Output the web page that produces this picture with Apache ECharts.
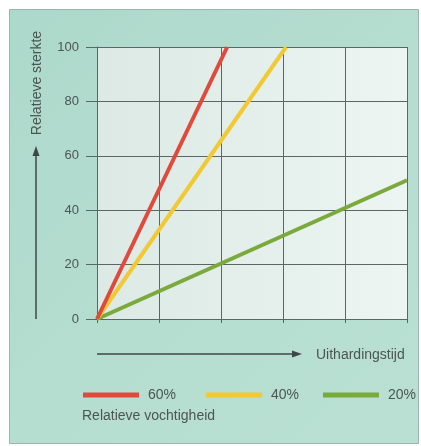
<!DOCTYPE html>
<html>
<head>
<meta charset="utf-8">
<script src="https://cdn.jsdelivr.net/npm/echarts@6/dist/echarts.min.js"></script>
<style>
html,body{margin:0;padding:0;background:#fff;}
#c{width:421px;height:446px;}
</style>
</head>
<body>
<div id="c"></div>
<script>
// Data
const seriesNames = ['60%', '40%', '20%'];
const series60 = [[0, 0], [2.1, 100]];
const series40 = [[0, 0], [3.05, 100]];
const series20 = [[0, 0], [5, 51]];
const xMin = 0, xMax = 5, xStep = 1;
const yMin = 0, yMax = 100, yStep = 20;
const yTitle = 'Relatieve sterkte';
const xTitle = 'Uithardingstijd';
const legendTitle = 'Relatieve vochtigheid';

const colors = ['#df4a3c', '#f1c933', '#7aa93c'];
const gridColor = '#5c6664';
const textColor = '#4d5553';
const font = 'Liberation Sans, Arial, sans-serif';
const legendLefts = [83, 206, 323];

const chart = echarts.init(document.getElementById('c'), null, {renderer: 'canvas'});
const dataSets = [series60, series40, series20];

chart.setOption({
  animation: false,
  backgroundColor: '#ffffff',
  textStyle: {fontFamily: font},
  graphic: [
    {type: 'rect', z: -10, silent: true,
     shape: {x: 9.5, y: 9.5, width: 409, height: 434},
     style: {
       fill: new echarts.graphic.LinearGradient(0, 0, 1, 1, [
         {offset: 0, color: '#acd9cb'},
         {offset: 0.5, color: '#b5ddd0'},
         {offset: 1, color: '#b9e0d3'}
       ]),
       stroke: '#9db3ad', lineWidth: 1
     }},
    // y arrow
    {type: 'line', silent: true, shape: {x1: 36, y1: 319, x2: 36, y2: 153},
     style: {stroke: '#3f4746', lineWidth: 1.5}},
    {type: 'polygon', silent: true, shape: {points: [[36, 146], [32.5, 156], [39.5, 156]]},
     style: {fill: '#3f4746'}},
    {type: 'text', silent: true, x: 37, y: 83, rotation: Math.PI / 2,
     style: {text: yTitle, fill: textColor, font: '14px ' + font, align: 'center', verticalAlign: 'middle'}},
    // x arrow
    {type: 'line', silent: true, shape: {x1: 97, y1: 354, x2: 295, y2: 354},
     style: {stroke: '#3f4746', lineWidth: 1.5}},
    {type: 'polygon', silent: true, shape: {points: [[302, 354], [292, 350.5], [292, 357.5]]},
     style: {fill: '#3f4746'}},
    {type: 'text', silent: true, x: 316, y: 355,
     style: {text: xTitle, fill: textColor, font: '14px ' + font, align: 'left', verticalAlign: 'middle'}},
    {type: 'text', silent: true, x: 82, y: 416,
     style: {text: legendTitle, fill: textColor, font: '14px ' + font, align: 'left', verticalAlign: 'middle'}}
  ],
  grid: {
    left: 97, top: 47, width: 310, height: 272,
    show: true,
    borderWidth: 0,
    backgroundColor: new echarts.graphic.LinearGradient(0, 0, 1, 0, [
      {offset: 0, color: '#dce9e5'},
      {offset: 1, color: '#ecf5f1'}
    ])
  },
  legend: seriesNames.map((n, i) => ({
    data: [n],
    left: legendLefts[i], top: 388,
    padding: 0,
    icon: 'rect',
    itemWidth: 56, itemHeight: 5,
    textStyle: {fontSize: 14, color: textColor, fontFamily: font, padding: [0, 0, 0, 4]}
  })),
  xAxis: {
    type: 'value', min: xMin, max: xMax, interval: xStep,
    axisLine: {show: true, lineStyle: {color: gridColor, width: 1}},
    axisTick: {show: true, length: 4, lineStyle: {color: gridColor, width: 1}},
    axisLabel: {show: false},
    splitLine: {show: true, lineStyle: {color: gridColor, width: 1}}
  },
  yAxis: {
    type: 'value', min: yMin, max: yMax, interval: yStep,
    axisLine: {show: true, lineStyle: {color: gridColor, width: 1}},
    axisTick: {show: true, length: 11, lineStyle: {color: gridColor, width: 1}},
    axisLabel: {show: true, margin: 18, fontSize: 13, color: textColor, fontFamily: font},
    splitLine: {show: true, lineStyle: {color: gridColor, width: 1}}
  },
  series: seriesNames.map((n, i) => ({
    name: n, type: 'line', data: dataSets[i],
    showSymbol: false, symbol: 'none',
    color: colors[i],
    lineStyle: {color: colors[i], width: 4},
    itemStyle: {color: colors[i]},
    z: 5 - i
  }))
});
</script>
</body>
</html>
